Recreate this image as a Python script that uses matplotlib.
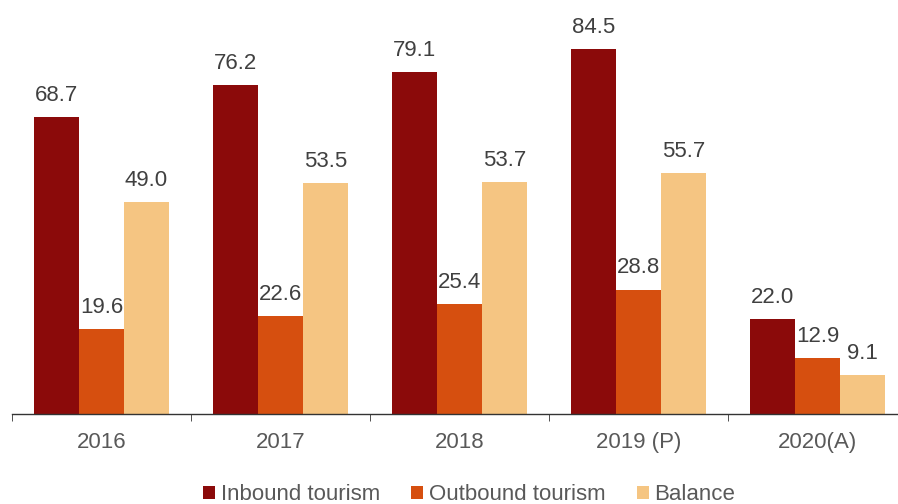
import matplotlib
matplotlib.use("Agg")
import matplotlib.pyplot as plt
import numpy as np

plt.rcParams['font.family'] = ['Liberation Sans', 'DejaVu Sans']

categories = ["2016", "2017", "2018", "2019 (P)", "2020(A)"]
inbound = [68.7, 76.2, 79.1, 84.5, 22.0]
outbound = [19.6, 22.6, 25.4, 28.8, 12.9]
balance = [49.0, 53.5, 53.7, 55.7, 9.1]
series_names = ["Inbound tourism", "Outbound tourism", "Balance"]
colors = ["#8B0A0A", "#D64F0F", "#F5C582"]

W, H = 898, 504
fig = plt.figure(figsize=(W/100, H/100), dpi=100)
left = 12 / W
right = 907 / W
bottom = (H - 414) / H
ax = fig.add_axes([left, bottom, right - left, 1 - bottom])

x = np.arange(len(categories))
bw = 0.25
for i, (vals, name, c) in enumerate(zip([inbound, outbound, balance], series_names, colors)):
    xs = x + (i - 1) * bw
    bars = ax.bar(xs, vals, width=bw, color=c, label=name)
    for xi, v in zip(xs, vals):
        ax.annotate(f"{v:.1f}", (xi, v), xytext=(0, 8), textcoords="offset points",
                    ha="center", va="bottom", fontsize=16, color="#404040")

ax.set_xlim(-0.5, len(categories) - 0.5)
ax.set_ylim(0, 414 / 4.32)
ax.set_yticks([])
for s in ["top", "right", "left"]:
    ax.spines[s].set_visible(False)
ax.spines["bottom"].set_color("#333333")
ax.spines["bottom"].set_linewidth(1.0)
ax.set_xticks(x)
ax.set_xticklabels(categories, fontsize=16, color="#595959")
ax.tick_params(axis="x", which="major", length=0, pad=13)
ax.set_xticks(np.arange(len(categories) + 1) - 0.5, minor=True)
ax.tick_params(axis="x", which="minor", length=5, color="#333333")

leg = fig.legend(loc="center", bbox_to_anchor=(469 / W, 1 - 495 / H), ncol=3, frameon=False,
                 fontsize=16, handlelength=0.55, handleheight=0.55, handletextpad=0.25,
                 columnspacing=1.4, labelcolor="#595959")

fig.savefig("out.png", dpi=100)
